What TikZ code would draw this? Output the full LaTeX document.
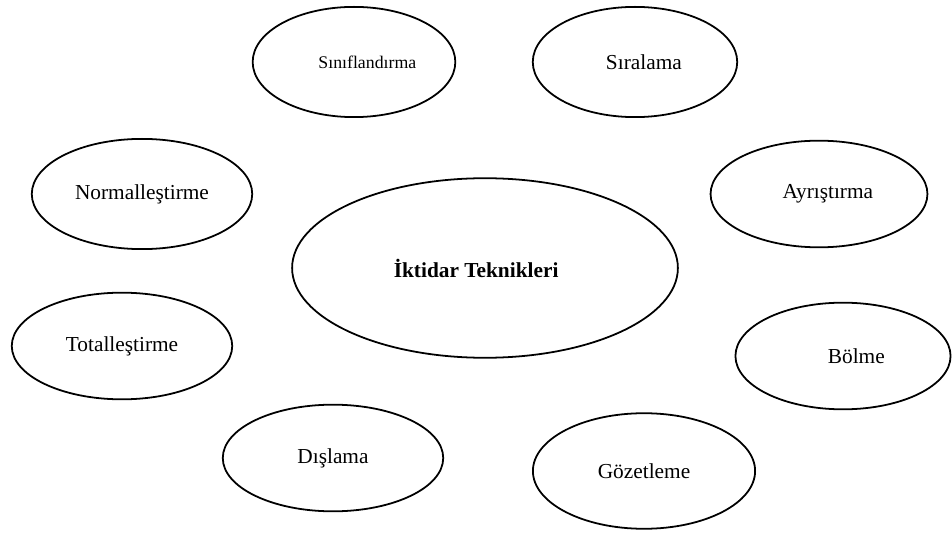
\documentclass[tikz,border=0pt]{standalone}
\usepackage{fontspec}
\setmainfont{Liberation Serif}
\usetikzlibrary{shapes.geometric}

\tikzset{
    technique/.style={draw, ellipse, line width=1pt, inner sep=0pt,
        minimum width=124pt, minimum height=62pt, font=\fontsize{12}{14}\selectfont},
    core/.style={technique, minimum width=217pt, minimum height=101pt,
        font=\fontsize{12}{14}\selectfont\bfseries}
}

\begin{document}
\begin{tikzpicture}[x=0.5625pt, y=-0.5625pt]
    \useasboundingbox (0,0) rectangle (952,533);

    \node[core] (iktidar) at (485,268) {İktidar Teknikleri\hspace*{10pt}\raisebox{5pt}{}};

    \node[technique, minimum width=114pt, font=\fontsize{10}{12}\selectfont] (siniflandirma) at (354,62) {\hspace*{15pt}Sınıflandırma};
    \node[technique, minimum width=115pt] (siralama) at (635,62) {\hspace*{10pt}Sıralama};
    \node[technique] (normallestirme) at (142,194) {Normalleştirme};
    \node[technique, minimum width=122pt, minimum height=60pt] (ayristirma) at (819,194) {\hspace*{10pt}Ayrıştırma};
    \node[technique, minimum height=60pt] (totallestirme) at (122,346) {Totalleştirme};
    \node[technique, minimum width=121pt, minimum height=60pt] (bolme) at (843,356) {\hspace*{15pt}Bölme};
    \node[technique, minimum height=60pt] (dislama) at (333,458) {Dışlama};
    \node[technique, minimum width=125pt, minimum height=65pt] (gozetleme) at (644,471) {Gözetleme};
\end{tikzpicture}
\end{document}
